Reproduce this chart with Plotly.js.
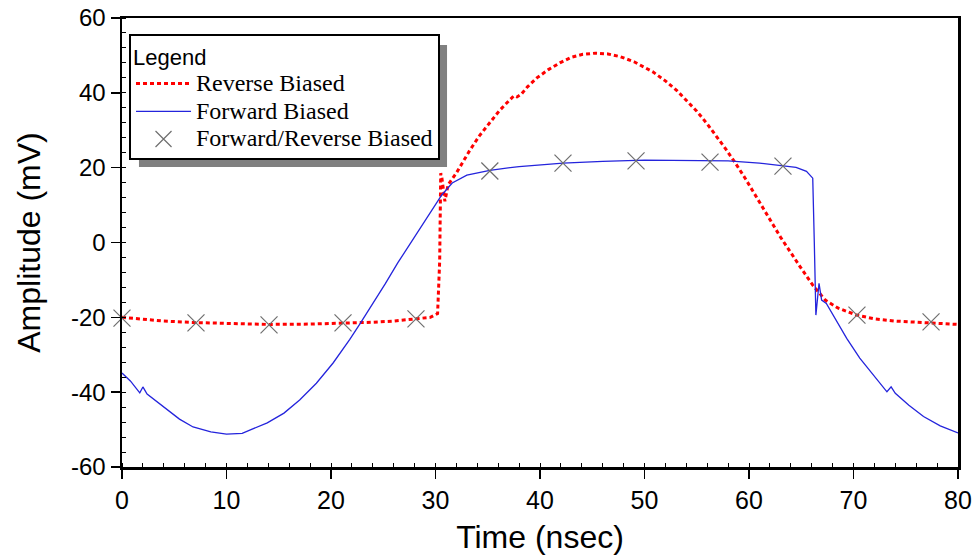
<!DOCTYPE html>
<html>
<head>
<meta charset="utf-8">
<script src="https://cdn.plot.ly/plotly-3.0.1.min.js"></script>
<style>
html,body{margin:0;padding:0;background:#fff}
#chart{width:979px;height:556px}
.legendtext{font-size:24px !important;}
</style>
</head>
<body>
<div id="chart"></div>
<script>
// Reverse Biased (red dotted)
const revX = [0, 2, 4, 7, 10, 14, 18, 21, 24, 26, 28, 29.5, 30.2, 30.4, 30.5, 30.6, 30.9, 31.2, 32, 33.3, 34.2, 35.2, 36.1, 37.1, 37.5, 37.8, 38.2, 38.8, 39.7, 40.8, 41.9, 43, 44.1, 45.3, 46.5, 47.7, 49, 50.8, 52, 53.1, 54, 55, 56, 56.9, 57.8, 58.7, 59.6, 61, 63, 64.9, 66.1, 67.3, 68.5, 70.3, 72, 74, 77.5, 80];
const revY = [-20, -20.6, -21, -21.4, -21.7, -21.9, -21.8, -21.6, -21.3, -21, -20.5, -20, -19, -5, 18.5, 17.5, 11, 15.4, 18.6, 24.7, 28.5, 31.9, 35.2, 38.1, 39.2, 38.9, 39.6, 41.6, 44, 46.2, 48, 49.5, 50.3, 50.6, 50.4, 49.65, 48.3, 45.6, 43.2, 40.6, 38.1, 35.1, 31.7, 28.4, 24.9, 21.2, 17.3, 10.8, 1.5, -6.5, -11.4, -15.4, -17.5, -19.4, -20.4, -21, -21.5, -21.9];

// Forward Biased (blue solid)
const fwdX = [0, 0.8, 1.7, 2.0, 2.4, 3, 4.3, 5.5, 6.8, 8.5, 10, 11.5, 13.9, 15.5, 17, 18.6, 20.2, 21.8, 22.8, 24, 25.2, 26.4, 27.8, 29.3, 30.6, 31.6, 33, 35.2, 38, 42.2, 46, 50, 54, 58, 61, 63, 64.5, 65.5, 66.1, 66.25, 66.4, 66.7, 66.95, 67.4, 68.4, 69.35, 70.6, 72, 73.2, 73.6, 74, 75.3, 76.7, 78.3, 80];
const fwdY = [-34.9, -37, -40.2, -38.6, -40.5, -41.8, -44.8, -47.2, -49.3, -50.6, -51.2, -51, -48.2, -45.6, -42.1, -37.6, -32.2, -25.9, -21.6, -16.4, -11, -5.4, 0.7, 7, 12.7, 15.9, 18, 19.3, 20.3, 21.2, 21.7, 22, 22, 21.8, 21.2, 20.6, 20.1, 19.0, 17.2, 0, -19.4, -10.9, -15.4, -16.3, -21, -25.6, -30.9, -35.8, -39.9, -38.6, -40.3, -43.5, -46.5, -49, -50.9];

// Forward/Reverse Biased (grey x markers)
const mkX = [0, 7.08, 14.07, 21.15, 28.13, 35.2, 42.2, 49.19, 56.27, 63.25, 70.33, 77.42];
const mkY = [-20.2, -21.5, -22, -21.5, -20.4, 19.1, 21.2, 21.8, 21.5, 20.4, -19.4, -21.2];

// Tick labels
const xTickVals = [0, 10, 20, 30, 40, 50, 60, 70, 80];
const xTickText = ["0", "10", "20", "30", "40", "50", "60", "70", "80"];
const yTickVals = [-60, -40, -20, 0, 20, 40, 60];
const yTickText = ["-60", "-40", "-20", "0", "20", "40", "60"];

const traces = [
  {x: revX, y: revY, name: "Reverse Biased", type: "scatter", mode: "lines",
   line: {color: "#ff0000", width: 3, dash: "4px,3px"}, legendgroup: "a"},
  {x: fwdX, y: fwdY, name: "Forward Biased", type: "scatter", mode: "lines",
   line: {color: "#2424dc", width: 1.3}, legendgroup: "b"},
  {x: mkX, y: mkY, name: "Forward/Reverse Biased", type: "scatter", mode: "markers", cliponaxis: false,
   marker: {symbol: "x-thin-open", size: 17, color: "#6e6e6e", line: {width: 1.2, color: "#6e6e6e"}}, legendgroup: "c"}
];

const axisCommon = {
  showline: true, linecolor: "#000", linewidth: 2.5, mirror: true,
  showgrid: false, zeroline: false,
  ticks: "outside", ticklen: 9, tickwidth: 1.5, tickcolor: "#000",
  tickmode: "array"
};

const layout = {
  width: 979, height: 556,
  margin: {l: 122, r: 21, t: 18, b: 89, pad: 0},
  paper_bgcolor: "#fff", plot_bgcolor: "#fff",
  font: {family: "Liberation Sans, Arial, sans-serif", color: "#000"},
  showlegend: true,
  xaxis: Object.assign({}, axisCommon, {
    range: [0, 80], tickvals: xTickVals, ticktext: xTickText,
    tickfont: {size: 25, family: "Liberation Sans, Arial, sans-serif"},
    minor: {dtick: 2, tick0: 0, ticks: "inside", ticklen: 4, tickwidth: 1, tickcolor: "#000"},
    title: {text: "Time (nsec)", font: {size: 32, family: "Liberation Sans, Arial, sans-serif"}, standoff: 13}
  }),
  yaxis: Object.assign({}, axisCommon, {
    range: [-60, 60], tickvals: yTickVals, ticktext: yTickText,
    tickfont: {size: 24, family: "Liberation Sans, Arial, sans-serif"},
    minor: {dtick: 4, tick0: 0, ticks: "inside", ticklen: 4, tickwidth: 1, tickcolor: "#000"},
    title: {text: "Amplitude (mV)", font: {size: 32, family: "Liberation Sans, Arial, sans-serif"}, standoff: 21}
  }),
  legend: {
    x: 0.0084, y: 0.964, xanchor: "left", yanchor: "top",
    bgcolor: "#fff", bordercolor: "#000", borderwidth: 2,
    font: {family: "Liberation Serif, Times New Roman, serif", size: 19, color: "#000"},
    title: {text: "Legend", font: {family: "Liberation Sans, Arial, sans-serif", size: 22}},
    itemwidth: 55, tracegroupgap: 0, traceorder: "normal"
  },
  shapes: [
    {type: "rect", xref: "paper", yref: "paper", x0: 0.0203, x1: 0.3888, y0: 0.668, y1: 0.9399,
     fillcolor: "#808080", line: {width: 0}, layer: "above"}
  ]
};

Plotly.newPlot("chart", traces, layout, {displayModeBar: false, staticPlot: true});
</script>
</body>
</html>
